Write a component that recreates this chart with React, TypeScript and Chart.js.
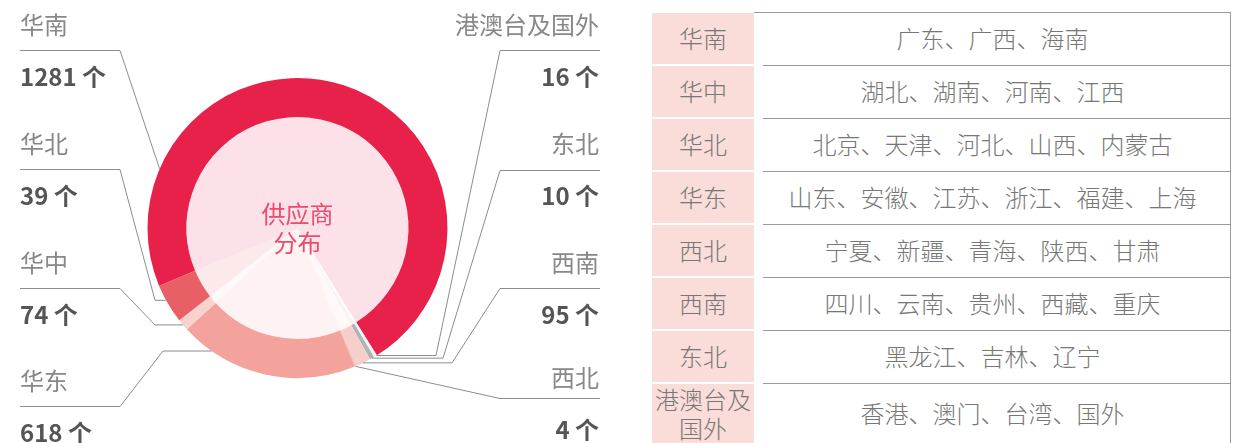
import React, { useEffect, useRef } from 'react';
import { Chart, registerables } from 'chart.js';

Chart.register(...registerables);

// Regions in clockwise order around the ring (starting at the 华南 arc)
const regionNames = ['华南', '港澳台及国外', '东北', '西南', '西北', '华东', '华中', '华北'];
// Supplier counts printed in the callouts
const supplierCounts = [1281, 16, 10, 95, 4, 618, 74, 39];
// Arc sizes as drawn in the ring (degrees)
const ringShares = [260.8, 1.2, 1.8, 5.9, 0.5, 70, 4.5, 15.3];
const ringColors = ['#e8214b', '#f6f6f6', '#b2b4b4', '#f7cfca', '#f4bcb6', '#f3a29c', '#f8d2cd', '#e95f66'];

// Table on the right
const tableRegions = ['华南', '华中', '华北', '华东', '西北', '西南', '东北', '港澳台及国外'];
const tableProvinces = [
  '广东、广西、海南',
  '湖北、湖南、河南、江西',
  '北京、天津、河北、山西、内蒙古',
  '山东、安徽、江苏、浙江、福建、上海',
  '宁夏、新疆、青海、陕西、甘肃',
  '四川、云南、贵州、西藏、重庆',
  '黑龙江、吉林、辽宁',
  '香港、澳门、台湾、国外',
];

const centerLines = ['供应商', '分布'];

// Callout layout (annotation positions only)
type Callout = { region: string; side: 'left' | 'right'; nameY: number; lineY: number; valueY: number; elbowX: number | null; anchor: number };
const callouts: Callout[] = [
  { region: '华南', side: 'left', nameY: 25, lineY: 50.5, valueY: 77, elbowX: null, anchor: 0.176 },
  { region: '华北', side: 'left', nameY: 144, lineY: 169.5, valueY: 196, elbowX: 155, anchor: 0.6 },
  { region: '华中', side: 'left', nameY: 263, lineY: 288.5, valueY: 315, elbowX: 155, anchor: 0.5 },
  { region: '华东', side: 'left', nameY: 381, lineY: 406.5, valueY: 433, elbowX: 163, anchor: 0.82 },
  { region: '港澳台及国外', side: 'right', nameY: 25, lineY: 50.5, valueY: 77, elbowX: 436, anchor: 0.1 },
  { region: '东北', side: 'right', nameY: 144, lineY: 170.5, valueY: 196, elbowX: 443, anchor: 0.5 },
  { region: '西南', side: 'right', nameY: 263, lineY: 288.5, valueY: 315, elbowX: 452, anchor: 0.5 },
  { region: '西北', side: 'right', nameY: 378, lineY: 398.5, valueY: 430, elbowX: null, anchor: 0.5 },
];

const FONT = '"Noto Sans CJK SC", "Noto Sans", sans-serif';

function withAlpha(hex: string, a: number) {
  const n = parseInt(hex.slice(1), 16);
  return `rgba(${(n >> 16) & 255},${(n >> 8) & 255},${n & 255},${a})`;
}

const calloutPlugin = {
  id: 'callouts',
  afterDatasetsDraw(chart: any) {
    const ctx = chart.ctx as CanvasRenderingContext2D;
    const meta = chart.getDatasetMeta(0);
    ctx.save();
    const first = meta.data[0];
    const cx = first.x;
    const cy = first.y;
    ctx.fillStyle = '#ec4a6e';
    ctx.font = `24px ${FONT}`;
    ctx.textAlign = 'center';
    ctx.textBaseline = 'middle';
    ctx.fillText(centerLines[0], cx, cy - 14);
    ctx.fillText(centerLines[1], cx, cy + 15);

    callouts.forEach((c) => {
      const i = regionNames.indexOf(c.region);
      const arc = meta.data[i];
      const p = arc.getProps(['startAngle', 'endAngle', 'outerRadius', 'x', 'y'], true);
      const a = p.startAngle + (p.endAngle - p.startAngle) * c.anchor;
      const ex = p.x + p.outerRadius * Math.cos(a);
      const ey = p.y + p.outerRadius * Math.sin(a);
      const x0 = c.side === 'left' ? 20 : 600;
      const x1 = c.side === 'left' ? 120 : 500;
      ctx.strokeStyle = '#8c8c8c';
      ctx.lineWidth = 1;
      ctx.beginPath();
      ctx.moveTo(x0, c.lineY);
      ctx.lineTo(x1, c.lineY);
      if (c.elbowX !== null) ctx.lineTo(c.elbowX, ey);
      ctx.lineTo(ex, ey);
      ctx.stroke();

      ctx.textAlign = c.side === 'left' ? 'left' : 'right';
      const tx = c.side === 'left' ? 20 : 599;
      ctx.fillStyle = '#888888';
      ctx.font = `24px ${FONT}`;
      ctx.fillText(c.region, tx, c.nameY);
      ctx.fillStyle = '#555555';
      ctx.font = `bold 24px ${FONT}`;
      ctx.fillText(`${supplierCounts[i]} 个`, tx, c.valueY);
    });
    ctx.restore();
  },
};

export default function App() {
  const ref = useRef<HTMLCanvasElement | null>(null);

  useEffect(() => {
    if (!ref.current) return;
    const chart = new Chart(ref.current, {
      type: 'doughnut',
      data: {
        labels: regionNames,
        datasets: [
          { data: ringShares, backgroundColor: ringColors, borderWidth: 0, weight: 39 } as any,
          { data: ringShares, backgroundColor: ringColors.map((c) => withAlpha(c, 0.13)), borderWidth: 0, weight: 111 } as any,
        ],
      },
      options: {
        responsive: false,
        devicePixelRatio: 1,
        animation: false,
        events: [],
        cutout: 0,
        rotation: 247.3,
        layout: { padding: { left: 147.5, right: 172.5, top: 78, bottom: 65 } },
        plugins: { legend: { display: false }, tooltip: { enabled: false } },
      } as any,
      plugins: [calloutPlugin],
    });
    return () => chart.destroy();
  }, []);

  const rowTop = (i: number) => 13 + i * 53;
  const cellText: React.CSSProperties = {
    position: 'absolute',
    display: 'flex',
    alignItems: 'center',
    justifyContent: 'center',
    textAlign: 'center',
    color: '#777777',
    fontFamily: FONT,
    fontWeight: 300,
    fontSize: 24,
    lineHeight: '29px',
    boxSizing: 'border-box',
    paddingBottom: 3,
  };

  return (
    <div style={{ position: 'absolute', left: 0, top: 0, width: 1239, height: 443, overflow: 'hidden', background: '#ffffff' }}>
      <canvas ref={ref} width={620} height={443} style={{ position: 'absolute', left: 0, top: 0, width: 620, height: 443 }} />
      <div style={{ position: 'absolute', left: 754, top: 12, width: 477, height: 1, background: '#9a9a9a' }} />
      <div style={{ position: 'absolute', left: 1230, top: 12, width: 1, height: 431, background: '#9a9a9a' }} />
      {tableRegions.map((r, i) => {
        const last = i === tableRegions.length - 1;
        const h = last ? 60 : 51;
        return (
          <React.Fragment key={r}>
            <div style={{ ...cellText, left: 652, top: rowTop(i), width: 102, height: h, background: '#fadcd8' }}>{r}</div>
            <div style={{ ...cellText, left: 755, top: rowTop(i), width: 475, height: last ? 60 : 52 }}>{tableProvinces[i]}</div>
            {!last && <div style={{ position: 'absolute', left: 763, top: rowTop(i) + 52, width: 467, height: 1, background: '#9a9a9a' }} />}
          </React.Fragment>
        );
      })}
    </div>
  );
}
